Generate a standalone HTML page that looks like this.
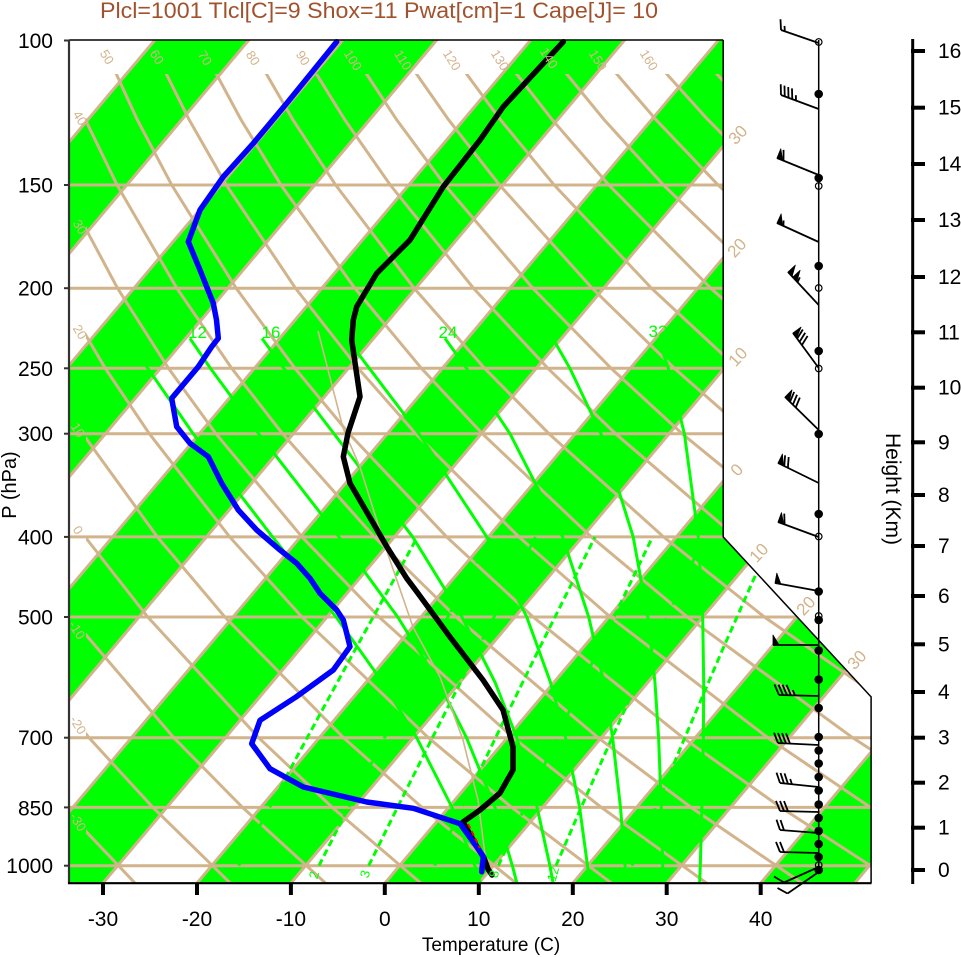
<!DOCTYPE html>
<html><head><meta charset="utf-8">
<style>
html,body{margin:0;padding:0;background:#fff;}
svg{display:block;}
text{font-family:"Liberation Sans",Arial,Helvetica,sans-serif;}
</style></head>
<body>
<svg width="961" height="957" viewBox="0 0 961 957" xmlns="http://www.w3.org/2000/svg">
<defs>
<clipPath id="plot"><polygon points="69,39.5 723.2,39.5 723.2,536.9 871.1,696.9 871.1,883.2 69,883.2"/></clipPath>
<clipPath id="dryclip"><polygon points="86,74 723.2,74 723.2,536.9 871.1,696.9 871.1,883.2 86,883.2"/></clipPath>
</defs>
<rect x="0" y="0" width="961" height="957" fill="#fff"/>

<g clip-path="url(#plot)">
  <g fill="#00ff00">
    <polygon points="-571.56,903.17 -477.6,903.17 279.85,3.17 185.89,3.17"/>
    <polygon points="-383.64,903.17 -289.68,903.17 467.77,3.17 373.81,3.17"/>
    <polygon points="-195.72,903.17 -101.76,903.17 655.69,3.17 561.73,3.17"/>
    <polygon points="-7.8,903.17 86.16,903.17 843.61,3.17 749.65,3.17"/>
    <polygon points="180.12,903.17 274.08,903.17 1031.53,3.17 937.57,3.17"/>
    <polygon points="368.04,903.17 462.0,903.17 1219.45,3.17 1125.49,3.17"/>
    <polygon points="555.96,903.17 649.92,903.17 1407.37,3.17 1313.41,3.17"/>
    <polygon points="743.88,903.17 837.84,903.17 1595.29,3.17 1501.33,3.17"/>
  </g>
  <g stroke="#d2b48c" stroke-width="3">
    <line x1="69" y1="185.0" x2="880" y2="185.0"/>
    <line x1="69" y1="288.2" x2="880" y2="288.2"/>
    <line x1="69" y1="368.3" x2="880" y2="368.3"/>
    <line x1="69" y1="433.7" x2="880" y2="433.7"/>
    <line x1="69" y1="536.9" x2="880" y2="536.9"/>
    <line x1="69" y1="617.0" x2="880" y2="617.0"/>
    <line x1="69" y1="737.7" x2="880" y2="737.7"/>
    <line x1="69" y1="807.4" x2="880" y2="807.4"/>
    <line x1="69" y1="865.7" x2="880" y2="865.7"/>
  </g>
  <g stroke="#d2b48c" stroke-width="3">
    <line x1="-665.52" y1="903.17" x2="91.93" y2="3.17"/>
    <line x1="-571.56" y1="903.17" x2="185.89" y2="3.17"/>
    <line x1="-477.6" y1="903.17" x2="279.85" y2="3.17"/>
    <line x1="-383.64" y1="903.17" x2="373.81" y2="3.17"/>
    <line x1="-289.68" y1="903.17" x2="467.77" y2="3.17"/>
    <line x1="-195.72" y1="903.17" x2="561.73" y2="3.17"/>
    <line x1="-101.76" y1="903.17" x2="655.69" y2="3.17"/>
    <line x1="-7.8" y1="903.17" x2="749.65" y2="3.17"/>
    <line x1="86.16" y1="903.17" x2="843.61" y2="3.17"/>
    <line x1="180.12" y1="903.17" x2="937.57" y2="3.17"/>
    <line x1="274.08" y1="903.17" x2="1031.53" y2="3.17"/>
    <line x1="368.04" y1="903.17" x2="1125.49" y2="3.17"/>
    <line x1="462.0" y1="903.17" x2="1219.45" y2="3.17"/>
    <line x1="555.96" y1="903.17" x2="1313.41" y2="3.17"/>
    <line x1="649.92" y1="903.17" x2="1407.37" y2="3.17"/>
    <line x1="743.88" y1="903.17" x2="1501.33" y2="3.17"/>
    <line x1="837.84" y1="903.17" x2="1595.29" y2="3.17"/>
  </g>
</g>

<!-- dry adiabats -->
<g fill="none" stroke="#d2b48c" stroke-width="3" clip-path="url(#dryclip)">
<polyline points="135.07,883.18 63.15,807.38 4.07,737.70 -83.45,617.01"/>
<polyline points="230.35,883.18 152.85,807.38 88.93,737.70 -6.37,617.01 -59.55,536.95"/>
<polyline points="325.63,883.18 242.54,807.38 173.79,737.70 70.71,617.01 12.77,536.95 -50.51,433.73"/>
<polyline points="420.91,883.18 332.25,807.38 258.65,737.70 147.79,617.01 85.09,536.95 16.10,433.73 -21.19,368.31"/>
<polyline points="516.19,883.18 421.95,807.38 343.51,737.70 224.87,617.01 157.41,536.95 82.71,433.73 42.04,368.31 -1.11,288.25"/>
<polyline points="611.47,883.18 511.65,807.38 428.37,737.70 301.95,617.01 229.73,536.95 149.32,433.73 105.27,368.31 58.21,288.25 7.81,185.03"/>
<polyline points="706.75,883.18 601.35,807.38 513.23,737.70 379.03,617.01 302.05,536.95 215.93,433.73 168.50,368.31 117.54,288.25 62.45,185.03 33.48,119.61"/>
<polyline points="802.03,883.18 691.05,807.38 598.09,737.70 456.11,617.01 374.37,536.95 282.54,433.73 231.73,368.31 176.87,288.25 117.09,185.03 85.35,119.61 57.76,53.61"/>
<polyline points="897.31,883.18 780.75,807.38 682.95,737.70 533.19,617.01 446.69,536.95 349.15,433.73 294.96,368.31 236.20,288.25 171.73,185.03 137.22,119.61 106.98,53.61"/>
<polyline points="992.59,883.18 870.45,807.38 767.81,737.70 610.27,617.01 519.01,536.95 415.76,433.73 358.19,368.31 295.53,288.25 226.37,185.03 189.09,119.61 156.20,53.61"/>
<polyline points="1087.87,883.18 960.15,807.38 852.67,737.70 687.35,617.01 591.33,536.95 482.37,433.73 421.42,368.31 354.86,288.25 281.01,185.03 240.96,119.61 205.42,53.61"/>
<polyline points="1049.85,807.38 937.53,737.70 764.43,617.01 663.65,536.95 548.98,433.73 484.65,368.31 414.19,288.25 335.65,185.03 292.83,119.61 254.64,53.61"/>
<polyline points="1022.39,737.70 841.51,617.01 735.97,536.95 615.59,433.73 547.88,368.31 473.52,288.25 390.29,185.03 344.70,119.61 303.86,53.61"/>
<polyline points="1107.25,737.70 918.59,617.01 808.29,536.95 682.20,433.73 611.11,368.31 532.85,288.25 444.93,185.03 396.57,119.61 353.08,53.61"/>
<polyline points="995.67,617.01 880.61,536.95 748.81,433.73 674.34,368.31 592.18,288.25 499.57,185.03 448.44,119.61 402.30,53.61"/>
<polyline points="1072.75,617.01 952.93,536.95 815.42,433.73 737.57,368.31 651.51,288.25 554.21,185.03 500.31,119.61 451.52,53.61"/>
<polyline points="1025.25,536.95 882.03,433.73 800.80,368.31 710.84,288.25 608.85,185.03 552.18,119.61 500.74,53.61"/>
<polyline points="948.64,433.73 864.03,368.31 770.17,288.25 663.49,185.03 604.05,119.61 549.96,53.61"/>
<polyline points="1015.25,433.73 927.26,368.31 829.50,288.25 718.13,185.03 655.92,119.61 599.18,53.61"/>
<polyline points="990.49,368.31 888.83,288.25 772.77,185.03 707.79,119.61 648.40,53.61"/>
<polyline points="948.16,288.25 827.41,185.03 759.66,119.61 697.62,53.61"/>
</g>

<!-- moist adiabats -->
<g fill="none" stroke="#00ff00" stroke-width="3" stroke-linejoin="round" clip-path="url(#plot)">
<polyline points="480.5,883.18 474.8,865.67 452.0,807.38 416.7,737.70 382.7,682.39 336.1,617.01 272.6,536.95 193.2,433.73 147.8,368.31 128.5,338.38"/>
<polyline points="516.9,883.18 512.35,865.67 495.0,807.38 466.5,737.70 438.6,682.39 397.7,617.01 339.0,536.95 258.65,433.73 210.45,368.31 189.9,338.38"/>
<polyline points="553.1,883.18 549.9,865.67 537.1,807.38 516.8,737.70 495.1,682.39 462.0,617.01 412.7,536.95 334.0,433.73 283.8,368.31 262.0,338.38"/>
<polyline points="589.7,883.18 587.5,865.67 579.6,807.38 565.6,737.70 550.5,682.39 526.75,617.01 486.8,536.95 419.0,433.73 369.3,368.31 346.7,338.38"/>
<polyline points="626.15,883.18 625.1,865.67 620.5,807.38 612.6,737.70 603.9,682.39 588.7,617.01 562.65,536.95 510.0,433.73 466.5,368.31 445.0,338.38"/>
<polyline points="662.8,883.18 662.7,865.67 661.3,807.38 658.6,737.70 654.95,682.39 647.8,617.01 633.2,536.95 601.0,433.73 569.9,368.31 552.75,338.38"/>
<polyline points="699.6,883.18 700.3,865.67 701.9,807.38 703.4,737.70 703.7,682.39 702.7,617.01 698.3,536.95 684.4,433.73 668.3,368.31 658.3,338.38"/>
</g>

<!-- mixing ratio lines -->
<g fill="none" stroke="#00ff00" stroke-width="3" stroke-dasharray="7,4" clip-path="url(#plot)">
<polyline points="238.7,865.67 269.7,807.38 307.2,737.70 354.3,651.19 417.5,536.95"/>
<polyline points="318.96,865.67 348.6,807.38 384.5,737.70 429.7,651.19 490.45,536.95"/>
<polyline points="368.7,865.67 397.5,807.38 432.4,737.70 476.3,651.19 535.5,536.95"/>
<polyline points="434.6,865.67 462.1,807.38 495.6,737.70 537.9,651.19 595.0,536.95"/>
<polyline points="498.4,865.67 524.75,807.38 556.85,737.70 597.5,651.19 652.5,536.95"/>
<polyline points="555.96,865.67 581.2,807.38 612.1,737.70 651.2,651.19 704.3,536.95"/>
<polyline points="631.9,865.67 655.7,807.38 684.8,737.70 721.85,651.19 772.4,536.95"/>
</g>

<!-- thin parcel line -->
<polyline points="318,331 343,428 360,467 383,540 413,627 440,677 463,740 478,800 487,870" fill="none" stroke="#d2b48c" stroke-width="1.6"/>

<!-- data -->
<polyline points="563.3,41.7 503.3,106.7 480,140 443.3,186.7 410,240 376.7,273.3 356.7,306.7 353.3,320 351.7,340 360,396.7 348,433 343.3,456.7 350,483.3 373.3,523.3 387,547 406.7,578.3 417,592 450,637 483,680 503,710 513,747 513,770 500,793 480,810 463,822 477,847 484,858 488,869 492,875" fill="none" stroke="#000" stroke-width="5.5" stroke-linejoin="round" stroke-linecap="round"/>
<polyline points="336.7,41.7 286.7,103.3 253.3,143.3 223.3,176.7 200,210 188.3,241.7 200,270 213.3,303.3 216.5,320 218.3,338.3 211.7,346.7 198.3,366.7 171.7,398.3 176.7,426.7 190,443.3 208.3,456.7 221.7,483.3 238.3,510 256.7,530 280,550 296.7,563.3 310,578.3 320,593.3 336.7,610 343.3,620 346.7,633.3 350,646.7 333.3,670 296,697 260,720.3 251.7,743.7 270,768.7 303.3,787 366.7,802 413.3,808.3 460,823.7 476.7,846.7 483.3,856.7 481.7,871.7" fill="none" stroke="#0000ff" stroke-width="5.5" stroke-linejoin="round" stroke-linecap="round"/>
<line x1="468" y1="824" x2="480" y2="848" stroke="#ff0000" stroke-width="2" stroke-dasharray="5,3"/>

<!-- borders -->
<g fill="none" stroke="#000">
  <line x1="69" y1="40" x2="723.2" y2="40" stroke-width="1.5"/>
  <polyline points="723.2,40 723.2,536.9 871.1,696.9 871.1,883.2" stroke-width="1.5"/>
  <line x1="69" y1="39.5" x2="69" y2="884" stroke-width="2.2" stroke="#333"/>
  <line x1="68" y1="883.2" x2="871.5" y2="883.2" stroke-width="2.2"/>
</g>
<g stroke="#000" stroke-width="4">
  <line x1="103.0" y1="883" x2="103.0" y2="895"/>
  <line x1="197.0" y1="883" x2="197.0" y2="895"/>
  <line x1="290.9" y1="883" x2="290.9" y2="895"/>
  <line x1="384.8" y1="883" x2="384.8" y2="895"/>
  <line x1="478.8" y1="883" x2="478.8" y2="895"/>
  <line x1="572.8" y1="883" x2="572.8" y2="895"/>
  <line x1="666.7" y1="883" x2="666.7" y2="895"/>
  <line x1="760.7" y1="883" x2="760.7" y2="895"/>
</g>
<g stroke="#333" stroke-width="2">
  <line x1="64" y1="40.5" x2="69" y2="40.5"/><line x1="64" y1="185" x2="69" y2="185"/>
  <line x1="64" y1="288.2" x2="69" y2="288.2"/><line x1="64" y1="368.3" x2="69" y2="368.3"/>
  <line x1="64" y1="433.7" x2="69" y2="433.7"/><line x1="64" y1="536.9" x2="69" y2="536.9"/>
  <line x1="64" y1="617" x2="69" y2="617"/><line x1="64" y1="737.7" x2="69" y2="737.7"/>
  <line x1="64" y1="807.4" x2="69" y2="807.4"/><line x1="64" y1="865.7" x2="69" y2="865.7"/>
</g>

<text x="100" y="18" font-size="22" fill="#a0522d" textLength="558" lengthAdjust="spacingAndGlyphs">Plcl=1001 Tlcl[C]=9 Shox=11 Pwat[cm]=1 Cape[J]= 10</text>

<g font-size="21" fill="#000" text-anchor="end">
  <text x="53" y="48">100</text>
  <text x="53" y="192.5">150</text>
  <text x="53" y="295.7">200</text>
  <text x="53" y="375.8">250</text>
  <text x="53" y="441.2">300</text>
  <text x="53" y="544.4">400</text>
  <text x="53" y="624.5">500</text>
  <text x="53" y="745">700</text>
  <text x="53" y="815.5">850</text>
  <text x="53" y="873.2">1000</text>
</g>
<text transform="translate(16,485) rotate(-90)" font-size="20" text-anchor="middle" fill="#000">P (hPa)</text>

<g font-size="21" fill="#000" text-anchor="middle">
  <text x="103" y="926">-30</text>
  <text x="197" y="926">-20</text>
  <text x="290.9" y="926">-10</text>
  <text x="384.8" y="926">0</text>
  <text x="478.8" y="926">10</text>
  <text x="572.8" y="926">20</text>
  <text x="666.7" y="926">30</text>
  <text x="760.7" y="926">40</text>
</g>
<text x="491" y="951" font-size="19" text-anchor="middle" fill="#000">Temperature (C)</text>

<g font-size="13" fill="#d2b48c" text-anchor="middle" dominant-baseline="central">
  <text transform="translate(107,57) rotate(58)">50</text>
  <text transform="translate(157,57) rotate(58)">60</text>
  <text transform="translate(205,58) rotate(58)">70</text>
  <text transform="translate(253,58) rotate(58)">80</text>
  <text transform="translate(303,58) rotate(58)">90</text>
  <text transform="translate(353,60) rotate(58)">100</text>
  <text transform="translate(403,60) rotate(58)">110</text>
  <text transform="translate(452,60) rotate(58)">120</text>
  <text transform="translate(500,60) rotate(58)">130</text>
  <text transform="translate(549,58) rotate(58)">140</text>
  <text transform="translate(598,60) rotate(58)">150</text>
  <text transform="translate(649,60) rotate(58)">160</text>
  <text transform="translate(80,118) rotate(58)">40</text>
  <text transform="translate(80,227) rotate(58)">30</text>
  <text transform="translate(80,332) rotate(58)">20</text>
  <text transform="translate(78,430) rotate(58)">10</text>
  <text transform="translate(78,530) rotate(58)">0</text>
  <text transform="translate(77,630) rotate(58)">-10</text>
  <text transform="translate(78,725) rotate(58)">-20</text>
  <text transform="translate(78,822) rotate(58)">-30</text>
</g>
<g font-size="17" fill="#d2b48c" text-anchor="middle" dominant-baseline="central">
  <text transform="translate(738,135) rotate(-47)">30</text>
  <text transform="translate(737,248) rotate(-47)">20</text>
  <text transform="translate(738,357) rotate(-47)">10</text>
  <text transform="translate(737,470) rotate(-47)">0</text>
  <text transform="translate(759,553) rotate(-47)">10</text>
  <text transform="translate(806,606) rotate(-47)">20</text>
  <text transform="translate(857,660) rotate(-47)">30</text>
</g>
<g font-size="17" fill="#00ff00" text-anchor="middle">
  <text x="197.5" y="338">12</text>
  <text x="271" y="338">16</text>
  <text x="448" y="338">24</text>
  <text x="658" y="337">32</text>
</g>
<g font-size="13" fill="#00ff00" text-anchor="middle" dominant-baseline="central">
  <text transform="translate(314,875) rotate(-75)">2</text>
  <text transform="translate(365,874) rotate(-75)">3</text>
  <text transform="translate(494,874) rotate(-75)">8</text>
  <text transform="translate(553,874) rotate(-75)">12</text>
</g>

<!-- wind barbs -->
<line x1="818.7" y1="40" x2="818.7" y2="870" stroke="#000" stroke-width="1.5"/>
<g stroke="#000" stroke-width="1.8" fill="none">
  <line x1="818.7" y1="43" x2="781" y2="30"/>
  <line x1="781" y1="30" x2="780.48" y2="19.24"/>
  <line x1="784.78" y1="31.3" x2="784.52" y2="25.92"/>

  <line x1="818.7" y1="109" x2="781" y2="95"/>
  <line x1="781" y1="95" x2="780.73" y2="84.23"/>
  <line x1="784.75" y1="96.39" x2="784.48" y2="85.62"/>
  <line x1="788.5" y1="97.78" x2="788.23" y2="87.01"/>
  <line x1="792.25" y1="99.18" x2="791.98" y2="88.41"/>
  <line x1="796" y1="100.57" x2="795.87" y2="95.19"/>

  <line x1="818.7" y1="175" x2="777" y2="158"/>
  <line x1="783.48" y1="160.64" x2="783.55" y2="149.87"/>

  <line x1="818.7" y1="242" x2="777" y2="223"/>
  <line x1="783.37" y1="225.9" x2="783.62" y2="220.52"/>

  <line x1="818.7" y1="305" x2="788" y2="272"/>
  <line x1="797.54" y1="282.25" x2="799.84" y2="277.38"/>

  <line x1="818.7" y1="368" x2="793" y2="333"/>
  <line x1="797.14" y1="338.64" x2="802.84" y2="329.5"/>
  <line x1="799.51" y1="341.87" x2="805.2" y2="332.73"/>
  <line x1="801.88" y1="345.09" x2="807.57" y2="335.95"/>

  <line x1="818.7" y1="430" x2="785" y2="397"/>
  <line x1="790" y1="401.9" x2="794.14" y2="391.96"/>
  <line x1="792.86" y1="404.7" x2="797" y2="394.76"/>
  <line x1="795.72" y1="407.49" x2="799.86" y2="397.55"/>

  <line x1="818.7" y1="483" x2="778" y2="463"/>
  <line x1="784.28" y1="466.09" x2="785.1" y2="455.35"/>
  <line x1="787.87" y1="467.85" x2="788.69" y2="457.11"/>

  <line x1="818.7" y1="537" x2="778" y2="522"/>
  <line x1="784.57" y1="524.42" x2="784.27" y2="513.66"/>

  <line x1="818.7" y1="591" x2="775" y2="583"/>
  <line x1="818.7" y1="645" x2="773" y2="645"/>

  <line x1="818.7" y1="696" x2="779" y2="695"/>
  <line x1="779" y1="695" x2="774.5" y2="684.5"/>
  <line x1="783" y1="695.1" x2="778.5" y2="684.6"/>
  <line x1="787" y1="695.2" x2="782.5" y2="684.7"/>
  <line x1="791" y1="695.3" x2="786.5" y2="684.8"/>
  <line x1="795" y1="695.4" x2="792.8" y2="690.2"/>

  <line x1="818.7" y1="745" x2="778" y2="743"/>
  <line x1="778" y1="743" x2="774" y2="732.7"/>
  <line x1="782" y1="743.2" x2="778" y2="732.9"/>
  <line x1="786" y1="743.4" x2="782" y2="733.1"/>
  <line x1="790" y1="743.6" x2="786" y2="733.3"/>

  <line x1="818.7" y1="787" x2="780" y2="783"/>
  <line x1="780" y1="783" x2="776.5" y2="772.6"/>
  <line x1="783.98" y1="783.41" x2="780.5" y2="773"/>
  <line x1="787.96" y1="783.82" x2="784.5" y2="773.4"/>
  <line x1="791.94" y1="784.23" x2="790.2" y2="779"/>

  <line x1="818.7" y1="812" x2="780" y2="811"/>
  <line x1="780" y1="811" x2="776" y2="800.9"/>
  <line x1="784" y1="811.1" x2="780" y2="801"/>
  <line x1="788" y1="811.2" x2="784" y2="801.1"/>

  <line x1="818.7" y1="833" x2="780" y2="830"/>
  <line x1="780" y1="830" x2="776.5" y2="819.7"/>
  <line x1="784" y1="830.3" x2="780.5" y2="820"/>

  <line x1="818.7" y1="853" x2="780" y2="852"/>
  <line x1="780" y1="852" x2="776" y2="841.9"/>
  <line x1="784" y1="852.1" x2="780" y2="842"/>

  <line x1="818.7" y1="867" x2="784" y2="882.5"/>
  <line x1="784" y1="882.5" x2="774" y2="876.5"/>
  <line x1="818.7" y1="872" x2="787.5" y2="893.5"/>
  <line x1="787.5" y1="893.5" x2="777.5" y2="888"/>
</g>
<g fill="#000" stroke="#000" stroke-width="0.8" stroke-linejoin="round">
  <polygon points="777,158 780.78,148.74 782.56,160.27"/>
  <polygon points="777,223 781.15,213.9 782.46,225.49"/>
  <polygon points="788,272 795.32,265.19 792.09,276.39"/>
  <polygon points="792.77,277.13 800.09,270.31 796.86,281.52"/>
  <polygon points="793,333 801.06,327.08 796.55,337.84"/>
  <polygon points="785,397 792,389.86 789.29,401.2"/>
  <polygon points="778,463 782.41,454.03 783.39,465.65"/>
  <polygon points="778,522 781.46,512.62 783.63,524.07"/>
  <polygon points="775,583 776.8,573.16 780.9,584.08"/>
  <polygon points="773,645 773,635 779,645"/>
</g>
<g fill="#000">
  <circle cx="818.7" cy="94" r="4.3"/><circle cx="818.7" cy="178" r="4.3"/>
  <circle cx="818.7" cy="266" r="4.3"/><circle cx="818.7" cy="351" r="4.3"/>
  <circle cx="818.7" cy="434" r="4.3"/><circle cx="818.7" cy="514" r="4.3"/>
  <circle cx="818.7" cy="591.5" r="4.3"/><circle cx="818.7" cy="620" r="4.3"/>
  <circle cx="818.7" cy="650.5" r="4.3"/><circle cx="818.7" cy="679.5" r="4.3"/>
  <circle cx="818.7" cy="708" r="4.3"/><circle cx="818.7" cy="737" r="4.3"/>
  <circle cx="818.7" cy="750.5" r="4.3"/><circle cx="818.7" cy="763.5" r="4.3"/>
  <circle cx="818.7" cy="777" r="4.3"/><circle cx="818.7" cy="790.5" r="4.3"/>
  <circle cx="818.7" cy="804.5" r="4.3"/><circle cx="818.7" cy="818" r="4.3"/>
  <circle cx="818.7" cy="831" r="4.3"/><circle cx="818.7" cy="844" r="4.3"/>
  <circle cx="818.7" cy="857" r="4.3"/><circle cx="818.7" cy="870" r="4.3"/>
</g>
<g fill="none" stroke="#000" stroke-width="1.2">
  <circle cx="818.7" cy="42" r="3.3"/><circle cx="818.7" cy="186" r="3.3"/>
  <circle cx="818.7" cy="288" r="3.3"/><circle cx="818.7" cy="368.5" r="3.3"/>
  <circle cx="818.7" cy="536.5" r="3.3"/><circle cx="818.7" cy="616" r="3.3"/>
  <circle cx="818.7" cy="865" r="3.3"/>
</g>

<!-- height axis -->
<line x1="912.7" y1="39" x2="912.7" y2="884" stroke="#000" stroke-width="3"/>
<g stroke="#000" stroke-width="4">
  <line x1="911" y1="870" x2="925" y2="870"/><line x1="911" y1="827.7" x2="925" y2="827.7"/>
  <line x1="911" y1="782.7" x2="925" y2="782.7"/><line x1="911" y1="737.7" x2="925" y2="737.7"/>
  <line x1="911" y1="692" x2="925" y2="692"/><line x1="911" y1="644.3" x2="925" y2="644.3"/>
  <line x1="911" y1="596" x2="925" y2="596"/><line x1="911" y1="546" x2="925" y2="546"/>
  <line x1="911" y1="495" x2="925" y2="495"/><line x1="911" y1="442.3" x2="925" y2="442.3"/>
  <line x1="911" y1="387.7" x2="925" y2="387.7"/><line x1="911" y1="332.3" x2="925" y2="332.3"/>
  <line x1="911" y1="277" x2="925" y2="277"/><line x1="911" y1="220" x2="925" y2="220"/>
  <line x1="911" y1="164" x2="925" y2="164"/><line x1="911" y1="107.7" x2="925" y2="107.7"/>
  <line x1="911" y1="51" x2="925" y2="51"/>
</g>
<g font-size="21" fill="#000">
  <text x="938" y="877">0</text><text x="938" y="834.7">1</text>
  <text x="938" y="789.7">2</text><text x="938" y="744.7">3</text>
  <text x="938" y="699">4</text><text x="938" y="651.3">5</text>
  <text x="938" y="603">6</text><text x="938" y="553">7</text>
  <text x="938" y="502">8</text><text x="938" y="449.3">9</text>
  <text x="938" y="394.7">10</text><text x="938" y="339.3">11</text>
  <text x="938" y="284">12</text><text x="938" y="227">13</text>
  <text x="938" y="171">14</text><text x="938" y="114.7">15</text>
  <text x="938" y="58">16</text>
</g>
<text transform="translate(886,489) rotate(90)" font-size="21" text-anchor="middle" fill="#000">Height (Km)</text>
</svg>
</body></html>
